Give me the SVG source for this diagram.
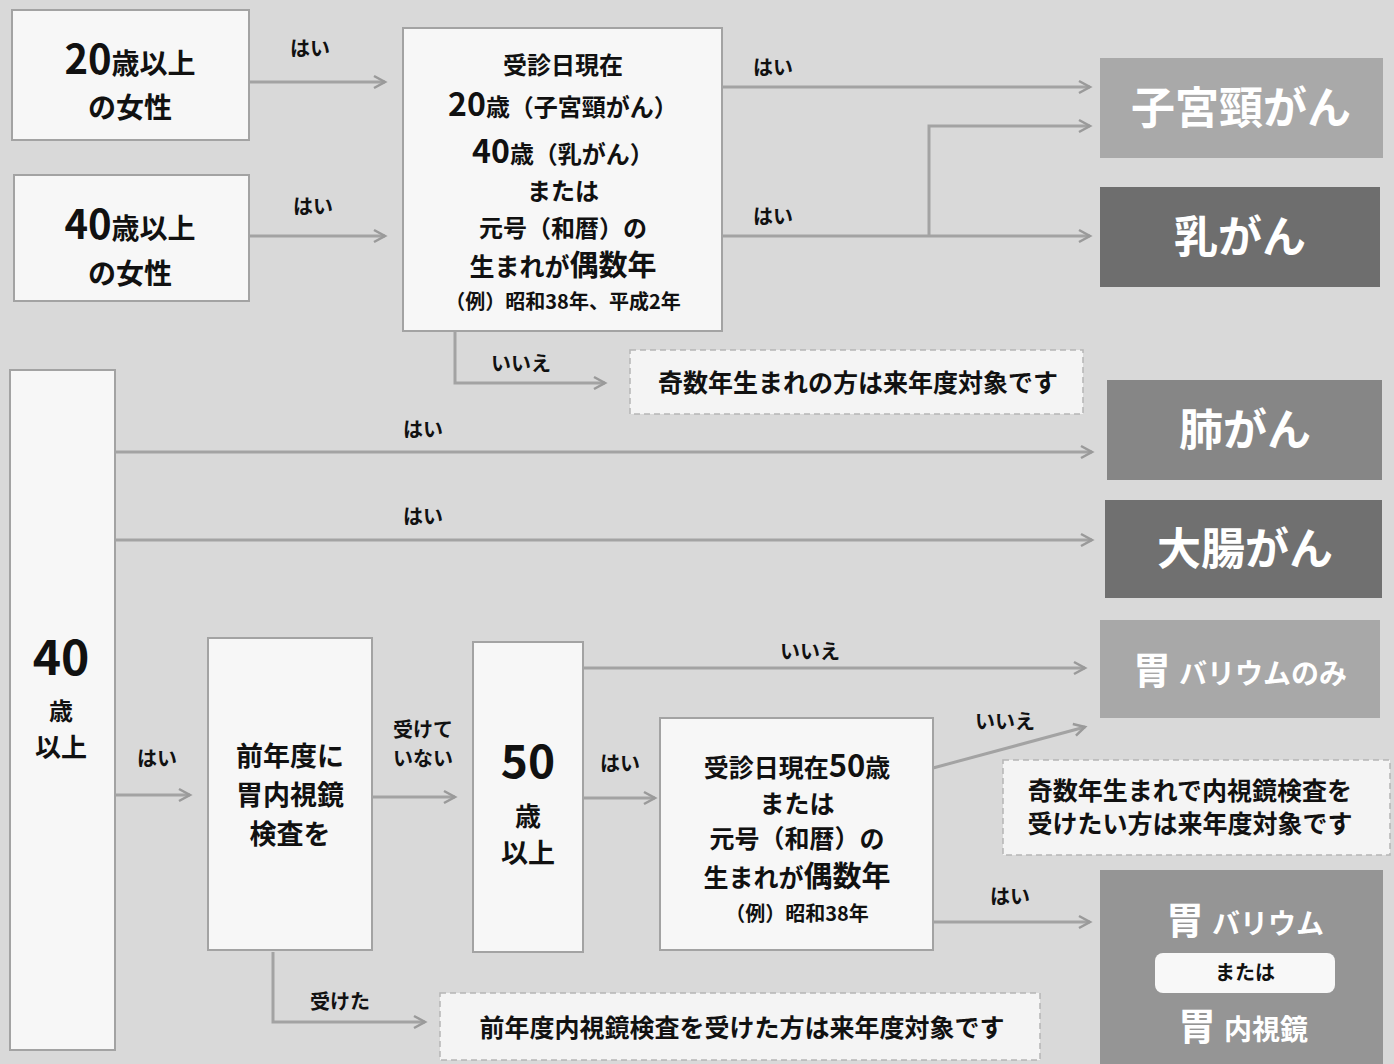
<svg xmlns="http://www.w3.org/2000/svg" width="1394" height="1064" viewBox="0 0 1394 1064">
<defs>
<marker id="arr" markerUnits="userSpaceOnUse" markerWidth="16" markerHeight="16" refX="13" refY="8" orient="auto">
<path d="M2,2 L13,8 L2,14" fill="none" stroke="#9a9a9a" stroke-width="2.5"/>
</marker>
</defs>
<style>
text{font-family:"Noto Sans CJK JP","Noto Sans",sans-serif;font-weight:bold;fill:#111;text-anchor:middle}
.box{fill:#f7f7f7;stroke:#a3a3a3;stroke-width:2}
.note{fill:#f4f4f4;stroke:#b5b5b5;stroke-width:1.5;stroke-dasharray:6 4}
.ln{fill:none;stroke:#a3a3a3;stroke-width:3}
.lbl{font-size:20px}
.res{font-size:44px;fill:#fff}
.w{fill:#fff}
</style>
<rect x="0" y="0" width="1394" height="1064" fill="#d9d9d9"/>

<g id="connectors">
<path class="ln" d="M249,82 H385" marker-end="url(#arr)"/>
<path class="ln" d="M249,236 H385" marker-end="url(#arr)"/>
<path class="ln" d="M722,87 H1090" marker-end="url(#arr)"/>
<path class="ln" d="M722,236 H1090" marker-end="url(#arr)"/>
<path class="ln" d="M929,236 V126 H1090" marker-end="url(#arr)"/>
<path class="ln" d="M455,332 V383 H605" marker-end="url(#arr)"/>
<path class="ln" d="M115,452 H1092" marker-end="url(#arr)"/>
<path class="ln" d="M115,540 H1092" marker-end="url(#arr)"/>
<path class="ln" d="M115,795 H190" marker-end="url(#arr)"/>
<path class="ln" d="M372,797 H455" marker-end="url(#arr)"/>
<path class="ln" d="M273,952 V1022 H425" marker-end="url(#arr)"/>
<path class="ln" d="M583,668 H1085" marker-end="url(#arr)"/>
<path class="ln" d="M583,798 H655" marker-end="url(#arr)"/>
<path class="ln" d="M933,768 L1085,727" marker-end="url(#arr)"/>
<path class="ln" d="M933,922 H1090" marker-end="url(#arr)"/>
<text class="lbl" x="310" y="56">はい</text>
<text class="lbl" x="313" y="214">はい</text>
<text class="lbl" x="773" y="75">はい</text>
<text class="lbl" x="773" y="224">はい</text>
<text class="lbl" x="521" y="371">いいえ</text>
<text class="lbl" x="423" y="437">はい</text>
<text class="lbl" x="423" y="524">はい</text>
<text class="lbl" x="157" y="766">はい</text>
<text class="lbl" x="423" y="737">受けて</text>
<text class="lbl" x="423" y="766">いない</text>
<text class="lbl" x="340" y="1009">受けた</text>
<text class="lbl" x="810" y="659">いいえ</text>
<text class="lbl" x="620" y="771">はい</text>
<text class="lbl" x="1005" y="729">いいえ</text>
<text class="lbl" x="1010" y="904">はい</text>
</g>

<g id="n-20f">
<rect class="box" x="12" y="10" width="237" height="130"/>
<text x="130" y="74"><tspan font-size="40">20</tspan><tspan font-size="28">歳以上</tspan></text>
<text x="130" y="118" font-size="28">の女性</text>
</g>

<g id="n-40f">
<rect class="box" x="14" y="175" width="235" height="126"/>
<text x="130" y="239"><tspan font-size="40">40</tspan><tspan font-size="28">歳以上</tspan></text>
<text x="130" y="284" font-size="28">の女性</text>
</g>

<g id="n-cond1">
<rect class="box" x="403" y="28" width="319" height="303"/>
<text x="563" y="74" font-size="24">受診日現在</text>
<text x="563" y="116"><tspan font-size="32">20</tspan><tspan font-size="24">歳（子宮頸がん）</tspan></text>
<text x="563" y="163"><tspan font-size="32">40</tspan><tspan font-size="24">歳（乳がん）</tspan></text>
<text x="563" y="200" font-size="24">または</text>
<text x="563" y="237" font-size="24">元号（和暦）の</text>
<text x="563" y="276"><tspan font-size="25">生まれが</tspan><tspan font-size="29">偶数年</tspan></text>
<text x="563" y="309" font-size="20">（例）昭和38年、平成2年</text>
</g>

<g id="n-note1">
<rect class="note" x="630" y="350" width="453" height="64"/>
<text x="858" y="392" font-size="25">奇数年生まれの方は来年度対象です</text>
</g>

<g id="n-40">
<rect class="box" x="10" y="370" width="105" height="680"/>
<text x="61" y="675" font-size="48">40</text>
<text x="61" y="720" font-size="24">歳</text>
<text x="61" y="757" font-size="26">以上</text>
</g>

<g id="n-prev">
<rect class="box" x="208" y="638" width="164" height="312"/>
<text x="290" y="766" font-size="27">前年度に</text>
<text x="290" y="805" font-size="27">胃内視鏡</text>
<text x="290" y="844" font-size="27">検査を</text>
</g>

<g id="n-50">
<rect class="box" x="473" y="642" width="110" height="310"/>
<text x="528" y="778" font-size="46">50</text>
<text x="528" y="826" font-size="26">歳</text>
<text x="528" y="863" font-size="27">以上</text>
</g>

<g id="n-cond2">
<rect class="box" x="660" y="718" width="273" height="232"/>
<text x="797" y="777"><tspan font-size="25">受診日現在</tspan><tspan font-size="31">50</tspan><tspan font-size="25">歳</tspan></text>
<text x="797" y="813" font-size="25">または</text>
<text x="797" y="848" font-size="25">元号（和暦）の</text>
<text x="797" y="887"><tspan font-size="25">生まれが</tspan><tspan font-size="29">偶数年</tspan></text>
<text x="797" y="921" font-size="20">（例）昭和38年</text>
</g>

<g id="n-note2">
<rect class="note" x="1003" y="760" width="387" height="95"/>
<text x="1190" y="800" font-size="25">奇数年生まれで内視鏡検査を</text>
<text x="1190" y="833" font-size="25">受けたい方は来年度対象です</text>
</g>

<g id="n-note3">
<rect class="note" x="440" y="993" width="600" height="67"/>
<text x="742" y="1037" font-size="25">前年度内視鏡検査を受けた方は来年度対象です</text>
</g>

<g id="r-cervix">
<rect x="1100" y="58" width="283" height="100" fill="#a9a9a9"/>
<text class="res" x="1241" y="124">子宮頸がん</text>
</g>
<g id="r-breast">
<rect x="1100" y="187" width="280" height="100" fill="#6e6e6e"/>
<text class="res" x="1240" y="253">乳がん</text>
</g>
<g id="r-lung">
<rect x="1107" y="380" width="275" height="100" fill="#868686"/>
<text class="res" x="1245" y="446">肺がん</text>
</g>
<g id="r-colon">
<rect x="1105" y="500" width="277" height="98" fill="#707070"/>
<text class="res" x="1245" y="565">大腸がん</text>
</g>
<g id="r-stomach1">
<rect x="1100" y="620" width="280" height="98" fill="#a8a8a8"/>
<text class="w" x="1240" y="684"><tspan font-size="38">胃</tspan><tspan font-size="28" dx="8">バリウムのみ</tspan></text>
</g>
<g id="r-stomach2">
<rect x="1100" y="870" width="283" height="194" fill="#959595"/>
<text class="w" x="1245" y="934"><tspan font-size="38">胃</tspan><tspan font-size="28" dx="8">バリウム</tspan></text>
<rect x="1155" y="953" width="180" height="40" rx="8" fill="#f8f8f8"/>
<text x="1245" y="980" font-size="20">または</text>
<text class="w" x="1243" y="1040"><tspan font-size="38">胃</tspan><tspan font-size="28" dx="8">内視鏡</tspan></text>
</g>
</svg>
